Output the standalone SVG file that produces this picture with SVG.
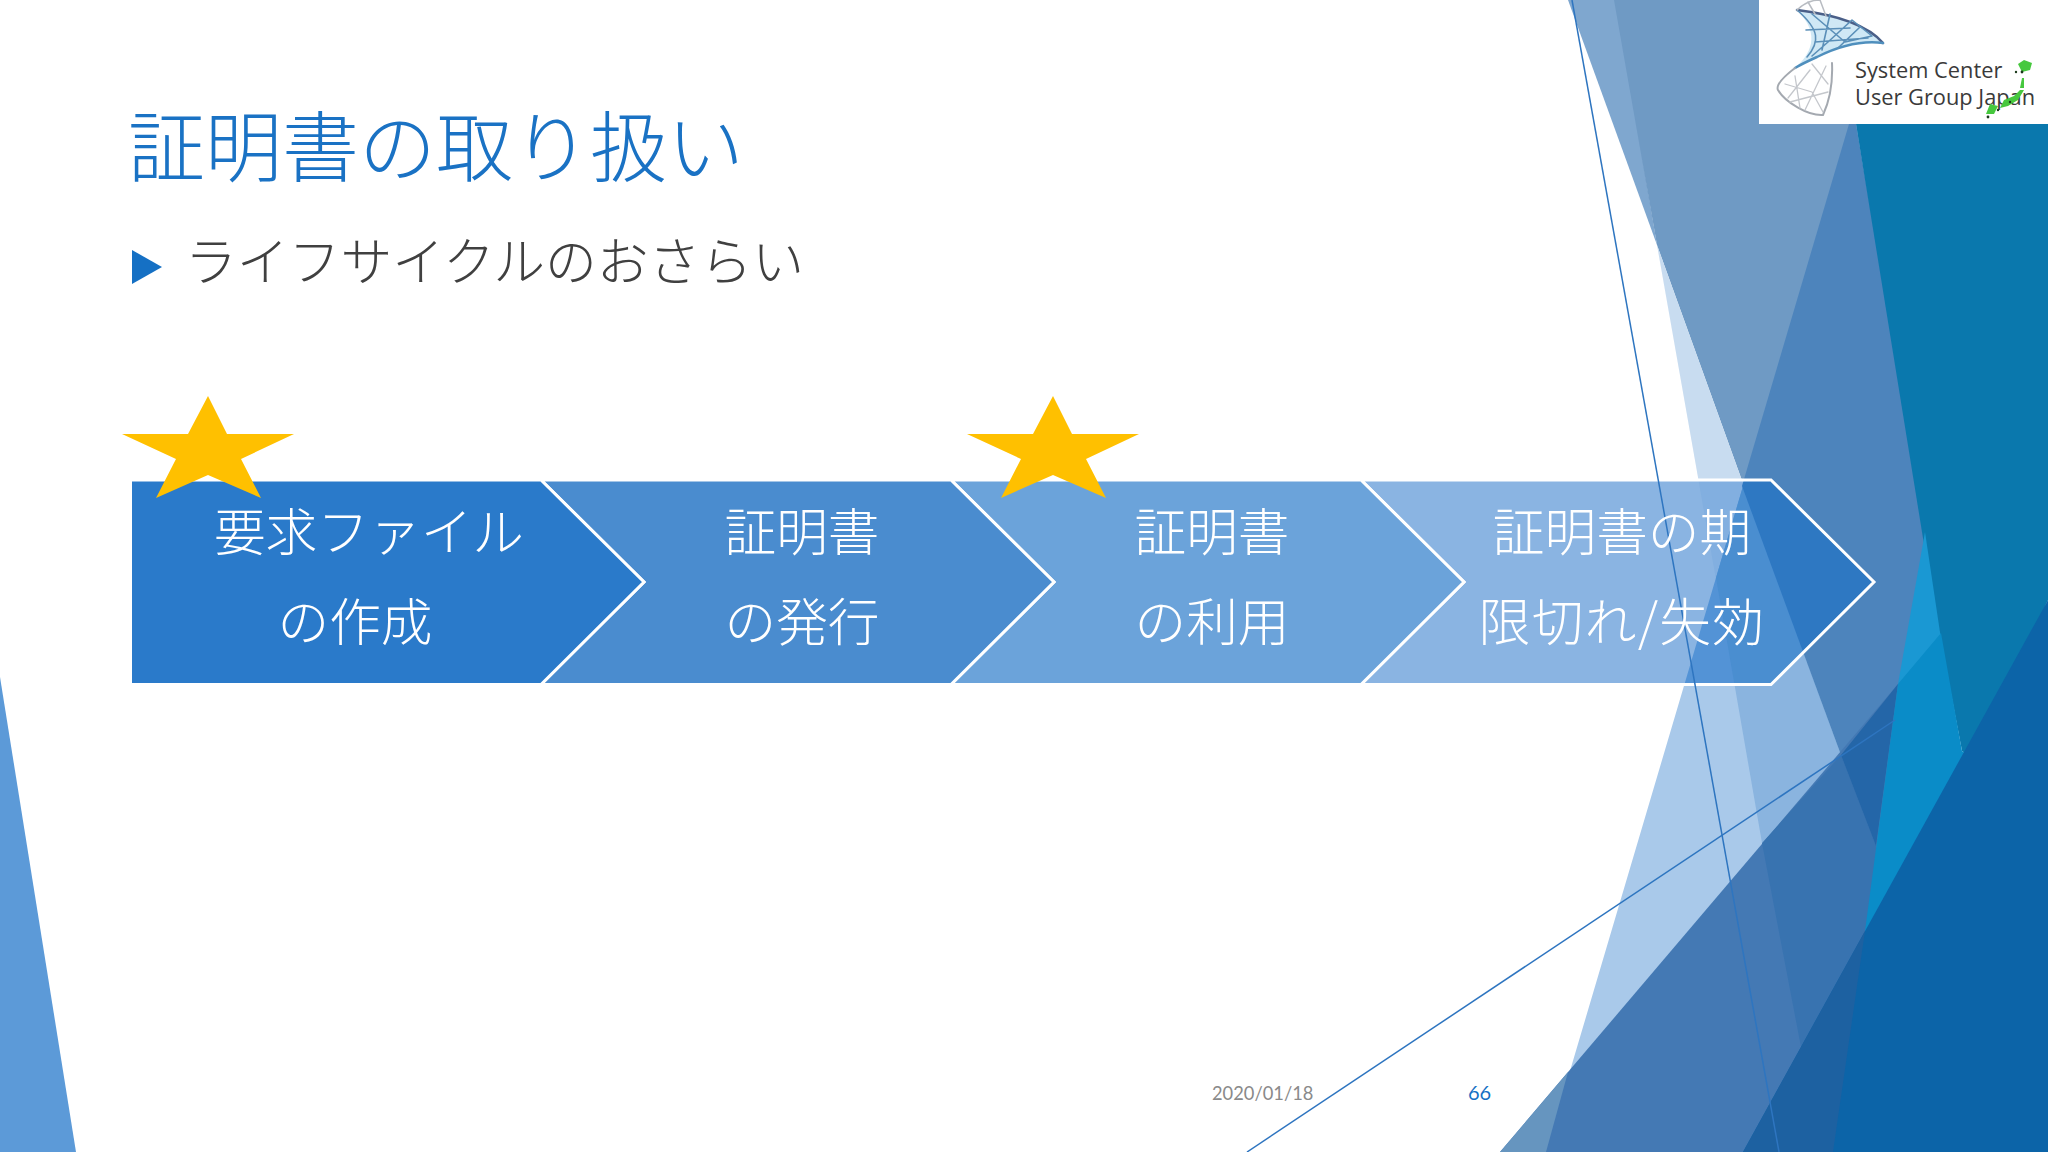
<svg xmlns="http://www.w3.org/2000/svg" width="2048" height="1152" viewBox="0 0 2048 1152">
<style>
.jp{font-family:"Noto Sans CJK JP","Noto Sans",sans-serif;font-weight:300}
.lbl{font-size:51.7px;fill:#fff;text-anchor:middle}
.star{fill:#ffc000}
.ch{stroke:#fff;stroke-width:3;stroke-linejoin:miter}
.thin{fill:none;stroke:#2e75c0;stroke-width:1.5}
.logoT{font-family:"Open Sans","Noto Sans",sans-serif;font-size:21.8px;fill:#3a3a3a}
</style>
<defs>
<clipPath id="c4"><polygon points="1361,480 1771,480 1874,582 1771,684.5 1361,684.5 1464,582"/></clipPath>
</defs>
<rect width="2048" height="1152" fill="#fff"/>
<g id="background">
<polygon points="0,677 76,1152 0,1152" fill="#5c9ad8"/>
<polygon points="1568,0 1616,0 1657,245" fill="#7fa7cf"/>
<polygon points="1614,0 1887,0 1887,124 1841,755 1657,245" fill="#6f9ac4"/>
<polygon points="1657,245 1841,755 1817,1152" fill="#c8dcf0"/>
<polygon points="1887,0 1546,1152 1850,1152 1900,600 1860,124" fill="#a9c9ea"/>
<polygon points="1743,486 1716,578 1762,843 1841,755" fill="#8ab4df"/>
<polygon points="1856,124 1849,124 1742,486 1841,755 1880,820 1935,700 1925,532" fill="#4d84bc"/>
<polygon points="1836,0 2048,0 2048,600 1975,760 1962,751 1933,600" fill="#0a78ad"/>
<polygon points="1898,684 1500,1152 1760,1152 1880,931" fill="#4479b4"/>
<polygon points="1500,1152 1546,1152 1568,1072" fill="#6695bf"/>
<polygon points="1762,843 1841,755 1876,846 1875,931 1810,1047 1801,1047" fill="#3873b0"/>
<polygon points="1841,755 1898,684 1876,846" fill="#2466a8"/>
<polygon points="1925,532 1941,639 1898,684" fill="#1a98d3"/>
<polygon points="1941,633 1962,751 1975,760 1875,940 1865,931 1898,684" fill="#0a8cc8"/>
<polygon points="2048,600 1743,1152 2048,1152" fill="#0c64a8"/>
<polygon points="1865,931 1743,1152 1833,1152" fill="#1d61a1"/>
</g>
<g id="chevron-4">
<polygon points="1361,480 1771,480 1874,582 1771,684.5 1361,684.5 1464,582" fill="#8ab4e2"/>
<g clip-path="url(#c4)">
<polygon points="1657,245 1841,755 1817,1152" fill="#82afe0"/>
<polygon points="1887,0 1546,1152 1850,1152 1900,600 1860,124" fill="#5393d6"/>
<polygon points="1743,486 1716,578 1762,843 1841,755" fill="#4a8ed0"/>
<polygon points="1900,124 1849,124 1742,486 1841,755 1900,684" fill="#2e78c2"/>
</g>
<polygon class="ch" points="1361,480 1771,480 1874,582 1771,684.5 1361,684.5 1464,582" fill="none"/>
</g>
<g id="chevron-3"><polygon class="ch" points="951,480 1361,480 1464,582 1361,684.5 951,684.5 1054,582" fill="#6ba3da"/></g>
<g id="chevron-2"><polygon class="ch" points="541,480 951,480 1054,582 951,684.5 541,684.5 644,582" fill="#4a8ccf"/></g>
<g id="chevron-1"><polygon class="ch" points="130.5,480 541,480 644,582 541,684.5 130.5,684.5" fill="#2a7aca"/></g>
<g id="lines">
<line class="thin" x1="1572" y1="0" x2="1779" y2="1152"/>
<line class="thin" x1="1247" y1="1152" x2="1895" y2="720"/>
</g>
<g id="title">
<text class="jp" x="128" y="176" font-size="77" fill="#1a72c4">証明書の取り扱い</text>
</g>
<g id="bullet">
<polygon points="132,250 162,267 132,284" fill="#1570c4"/>
<text class="jp" x="185" y="281" font-size="51.8" fill="#404040">ライフサイクルのおさらい</text>
</g>
<g id="label-1"><text class="jp lbl" x="369" y="551">要求ファイル</text><text class="jp lbl" x="355" y="641">の作成</text></g>
<g id="label-2"><text class="jp lbl" x="802" y="551">証明書</text><text class="jp lbl" x="802" y="641">の発行</text></g>
<g id="label-3"><text class="jp lbl" x="1212" y="551">証明書</text><text class="jp lbl" x="1212" y="641">の利用</text></g>
<g id="label-4"><text class="jp lbl" x="1622" y="551">証明書の期</text><text class="jp lbl" x="1622" y="641" letter-spacing="1.3">限切れ/失効</text></g>
<g id="star-1"><polygon class="star" points="208,396 227,434 294,434 241,459 261,498 208,475 156,498 176,459 122,434 188,434"/></g>
<g id="star-2"><polygon class="star" points="1053,396 1072,434 1139,434 1086,459 1106,498 1053,475 1001,498 1021,459 967,434 1033,434"/></g>
<g id="footer">
<text x="1212" y="1100" font-family="Lato,'Noto Sans',sans-serif" font-size="18.3" fill="#8a8a8a">2020/01/18</text>
<text x="1468" y="1100" font-family="Lato,'Noto Sans',sans-serif" font-size="20" fill="#1570c4">66</text>
</g>
<g id="logo">
<rect x="1759" y="0" width="289" height="124" fill="#fff"/>
<path d="M1797,10 C1830,14 1865,22 1883,43 C1860,40 1835,48 1817,57 C1808,61 1800,65 1795,68 C1810,55 1822,35 1797,10 Z" fill="#cfe8f5"/>
<g fill="none" stroke-linecap="round" stroke-linejoin="round">
<path d="M1797,10 C1830,14 1865,22 1883,43" stroke="#4a5f88" stroke-width="2.5"/>
<path d="M1883,43 C1860,40 1835,48 1817,57 C1808,61 1800,65 1795,68" stroke="#4f8fbd" stroke-width="2.5"/>
<path d="M1797,10 C1820,30 1820,42 1807,57 M1812,14 L1845,42 L1872,36 L1852,20 L1828,42 L1812,56 M1830,14 L1822,50 M1860,27 L1838,48 M1806,30 L1850,28 M1815,42 L1868,38" stroke="#5a8fb8" stroke-width="1.6"/>
<path d="M1797,10 C1803,4 1812,0 1820,0 L1826,16 M1808,2 L1815,14" stroke="#b8bcc2" stroke-width="1.5"/>
<path d="M1795,68 C1782,78 1776,86 1778,90 C1785,102 1808,116 1823,115 C1830,100 1833,85 1832,63" stroke="#a4a9b0" stroke-width="2"/>
<path d="M1785,84 L1812,92 L1823,112 M1795,76 L1800,108 M1810,70 L1788,98 M1826,66 L1805,110 M1812,64 L1828,84 M1790,102 L1828,92" stroke="#c4c7cc" stroke-width="1.3"/>
</g>
<text class="logoT" x="1855" y="78">System Center</text>
<text class="logoT" x="1855" y="105">User Group Japan</text>
<g fill="#46c83e">
<polygon points="2018,64 2024,60 2032,63 2030,70 2022,72"/>
<polygon points="2022,78 2024,78 2024,88 2020,88"/>
<polygon points="2020,90 2024,90 2018,100 2008,106 2000,108 2004,100 2014,96"/>
<polygon points="1990,104 1998,106 1994,114 1986,114"/>
</g>
<g fill="#1b3a1b">
<circle cx="2022" cy="72" r="1.4"/><circle cx="2016" cy="72" r="1.2"/><circle cx="1988" cy="117" r="1.4"/><circle cx="1998" cy="110" r="1.2"/><circle cx="2010" cy="102" r="1.2"/>
</g>
</g>
</svg>
